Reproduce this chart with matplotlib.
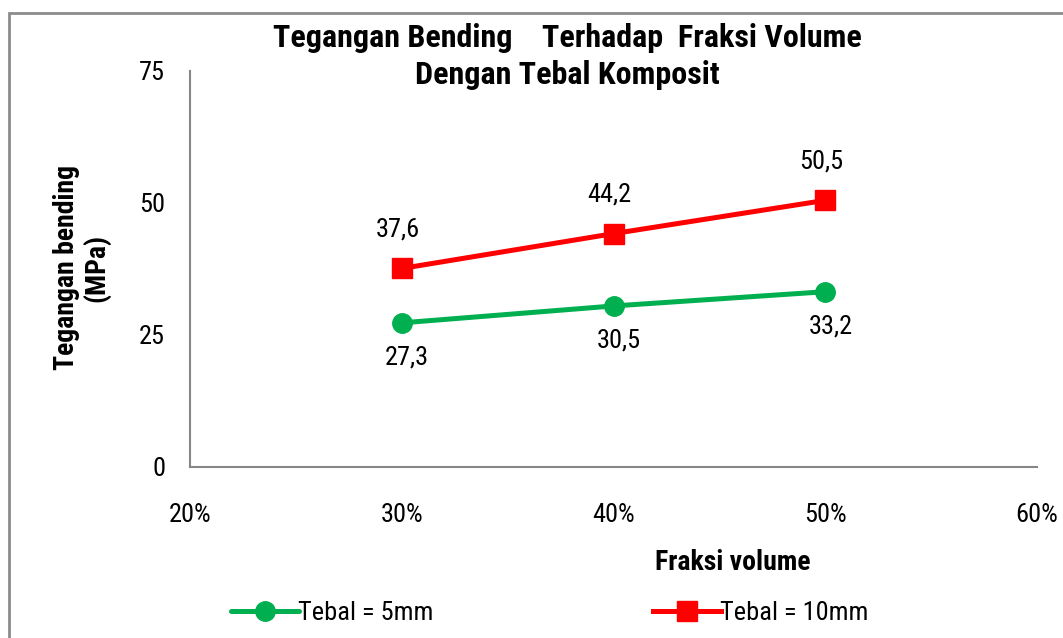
import matplotlib
matplotlib.use("Agg")
import matplotlib.pyplot as plt
from matplotlib.patches import Rectangle
from matplotlib.ticker import FixedLocator
from matplotlib import font_manager

fraksi = [0.30, 0.40, 0.50]
tebal_5mm = [27.3, 30.5, 33.2]
tebal_10mm = [37.6, 44.2, 50.5]
label_5mm = ["27,3", "30,5", "33,2"]
label_10mm = ["37,6", "44,2", "50,5"]
x_ticks = [0.2, 0.3, 0.4, 0.5, 0.6]
x_tick_labels = ["20%", "30%", "40%", "50%", "60%"]
y_ticks = [0, 25, 50, 75]

# ---- font selection: prefer a narrow font (Arial Narrow look-alike) ----
weights = {}
for f in font_manager.fontManager.ttflist:
    w = f.weight
    if isinstance(w, str):
        w = font_manager.weight_dict.get(w, 400)
    weights.setdefault(f.name, set()).add(w)

preferred = ['Liberation Sans Narrow', 'Arial Narrow', 'Roboto Condensed', 'Open Sans Condensed',
             'Noto Sans Condensed', 'DejaVu Sans Condensed']
narrow_all = [n for n in preferred if n in weights] + \
    sorted(n for n in weights if ('Narrow' in n or 'Condensed' in n) and n not in preferred)
narrow_reg = narrow_all[0] if narrow_all else None
narrow_bold = next((n for n in narrow_all if max(weights[n]) >= 600), None)

if narrow_reg:
    reg_family = [narrow_reg, 'Liberation Sans', 'DejaVu Sans']
    fs_tick = 19
else:
    reg_family = ['Liberation Sans', 'DejaVu Sans']
    fs_tick = 17
if narrow_bold:
    bold_family = [narrow_bold, 'Liberation Sans', 'DejaVu Sans']
    fs_title, fs_lab = 23, 20
else:
    bold_family = ['Liberation Sans', 'DejaVu Sans']
    fs_title, fs_lab = 19.5, 17.5
plt.rcParams['font.family'] = reg_family

W, H = 1063, 638
fig = plt.figure(figsize=(W / 100, H / 100), dpi=100)
ax = fig.add_axes([190 / W, 1 - 467 / H, (1037 - 190) / W, (467 - 71) / H])

green = '#00B050'
red = '#FF0000'
ax.plot(fraksi, tebal_5mm, color=green, lw=3.6, marker='o', ms=14, label='Tebal = 5mm',
        solid_capstyle='round')
ax.plot(fraksi, tebal_10mm, color=red, lw=3.6, marker='s', ms=15, label='Tebal = 10mm')

for x, y, t in zip(fraksi, tebal_5mm, label_5mm):
    ax.annotate(t, (x, y), xytext=(4, -25), textcoords='offset points', ha='center', va='center',
                fontsize=fs_tick)
for x, y, t in zip(fraksi, tebal_10mm, label_10mm):
    ax.annotate(t, (x, y), xytext=(-3, 28), textcoords='offset points', ha='center', va='center',
                fontsize=fs_tick)

ax.set_xlim(0.2, 0.6)
ax.set_ylim(0, 75)
ax.xaxis.set_major_locator(FixedLocator(x_ticks))
ax.set_xticklabels(x_tick_labels)
ax.set_yticks(y_ticks)
ax.tick_params(axis='both', length=0, labelsize=fs_tick)
ax.tick_params(axis='x', pad=26)
ax.tick_params(axis='y', pad=18)
for s in ['top', 'right']:
    ax.spines[s].set_visible(False)
for s in ['left', 'bottom']:
    ax.spines[s].set_color('#868686')
    ax.spines[s].set_linewidth(1.5)

fig.text(567 / W, 1 - 38 / H, "Tegangan Bending    Terhadap  Fraksi Volume", ha='center', va='center',
         fontsize=fs_title, fontweight='bold', family=bold_family)
fig.text(567 / W, 1 - 75 / H, "Dengan Tebal Komposit", ha='center', va='center',
         fontsize=fs_title, fontweight='bold', family=bold_family)
fig.text(82 / W, 1 - 268 / H, "Tegangan bending\n(MPa)", ha='center', va='center', rotation=90,
         fontsize=fs_lab, fontweight='bold', linespacing=1.1, family=bold_family)
fig.text(733 / W, 1 - 563 / H, "Fraksi volume", ha='center', va='center',
         fontsize=fs_lab, fontweight='bold', family=bold_family)

px_per_unit = fs_tick * 100 / 72
fig.legend(loc='center left', bbox_to_anchor=(231 / W, 1 - 613 / H), ncol=2, frameon=False,
           fontsize=fs_tick, handlelength=68 / px_per_unit, handletextpad=-0.05,
           columnspacing=220 / px_per_unit, borderaxespad=0, borderpad=0)

fig.add_artist(Rectangle((9 / W, -0.1), 1.2, 1 - 13 / H + 0.1, transform=fig.transFigure,
                         fill=False, edgecolor='#8c8c8c', lw=2))

fig.savefig('out.png', dpi=100)
